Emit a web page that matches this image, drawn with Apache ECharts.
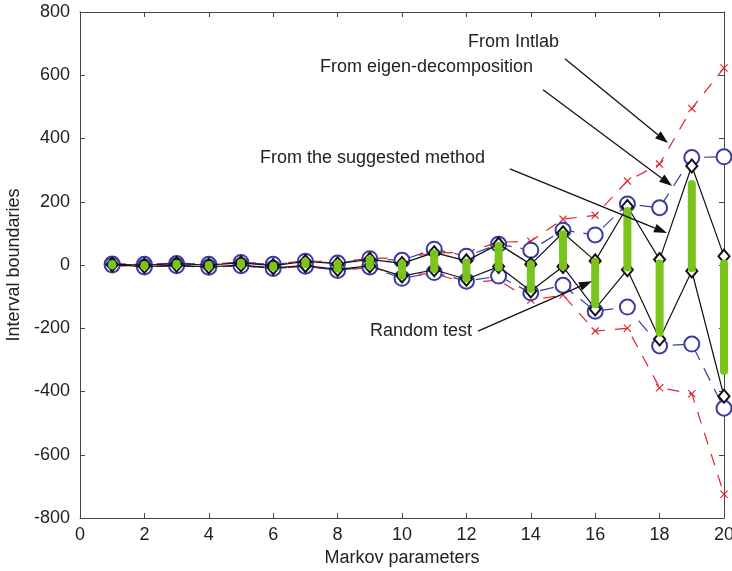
<!DOCTYPE html>
<html>
<head>
<meta charset="utf-8">
<script src="https://cdn.jsdelivr.net/npm/echarts@6/dist/echarts.min.js"></script>
<style>
html, body { margin: 0; padding: 0; background: #fff; }
#main { width: 732px; height: 571px; }
</style>
</head>
<body>
<div id="main"></div>
<script>
// Markov parameter index
var steps = [1, 2, 3, 4, 5, 6, 7, 8, 9, 10, 11, 12, 13, 14, 15, 16, 17, 18, 19, 20];

// From Intlab (red x)
var intlabUp  = [3, 2, 6, 2, 9, 3, 13, 10, 21, 22, 38, 40, 72, 75, 145, 157, 266, 319, 495, 623];
var intlabLow = [-1, -6, -2, -8, -2, -12, -4, -18, -8, -30, -28, -56, -48, -111, -95, -209, -200, -388, -407, -725];

// From eigen-decomposition (blue circles)
var eigenUp  = [3, 2, 5, 2, 8, 2, 12, 6, 20, 15, 50, 28, 66, 47, 110, 95, 193, 181, 340, 342];
var eigenLow = [0, -6, -2, -7, -2, -11, -4, -17, -6, -42, -24, -51, -35, -88, -64, -146, -133, -256, -250, -453];

// From the suggested method (black diamonds)
var suggUp  = [2, 0, 4, 0, 7, -2, 11, 4, 18, 5, 39, 13, 66, 2, 102, 13, 185, 17, 313, 28];
var suggLow = [1, -5, -1, -6, 0, -9, -2, -14, -3, -35, -15, -45, -5, -82, -5, -139, -15, -234, -19, -415];

// Random test (green ranges)
var randLow  = [-1, -4, 0, -5, 1, -8, 2, -12, -2, -33, -13, -43, -8, -76, -5, -124, -8, -214, -10, -335];
var randHigh = [2, 0, 4, 0, 7, -2, 10, 4, 18, 4, 36, 8, 60, 2, 97, 10, 171, 5, 256, 5];

var yTicks = [-800, -600, -400, -200, 0, 200, 400, 600, 800];

function pairs(vals) {
    return steps.map(function (s, i) { return [s, vals[i]]; });
}

var red = '#e3232b';
var blue = '#3b3ba5';
var crossPath = 'path://M0,1L1,0L5,4L9,0L10,1L6,5L10,9L9,10L5,6L1,10L0,9L4,5Z';
var textFont = '"Liberation Sans", Arial, sans-serif';

function intlabSeries(vals) {
    return {
        type: 'line', data: pairs(vals), symbol: crossPath, symbolSize: 8,
        itemStyle: { color: red }, lineStyle: { color: red, width: 1.2, type: [12, 10] },
        z: 2, silent: true
    };
}
function eigenSeries(vals) {
    return {
        type: 'line', data: pairs(vals), symbol: 'emptyCircle', symbolSize: 15,
        itemStyle: { color: blue, borderWidth: 1.2 }, lineStyle: { color: blue, width: 1.2, type: [14, 9] },
        z: 3, silent: true
    };
}
function suggSeries(vals) {
    return {
        type: 'line', data: pairs(vals), symbol: 'emptyDiamond', symbolSize: [11, 13],
        itemStyle: { color: '#111', borderWidth: 1.3 }, lineStyle: { color: '#111', width: 1.2 },
        z: 4, silent: true
    };
}

var chart = echarts.init(document.getElementById('main'));
chart.setOption({
    animation: false,
    backgroundColor: '#fff',
    grid: { left: 80, right: 8, top: 12, bottom: 53, outerBoundsMode: 'none', containLabel: false },
    xAxis: [{
        type: 'value', min: 0, max: 20, interval: 2,
        name: 'Markov parameters', nameLocation: 'middle', nameGap: 28,
        nameTextStyle: { fontFamily: textFont, fontSize: 18, color: '#222' },
        axisLine: { onZero: false, lineStyle: { color: '#444', width: 1 } },
        axisTick: { inside: true, length: 5, lineStyle: { color: '#444' } },
        axisLabel: { fontFamily: textFont, fontSize: 18, color: '#222', margin: 8 },
        splitLine: { show: false }
    }, {
        type: 'value', min: 0, max: 20, interval: 2, position: 'top',
        axisLine: { onZero: false, lineStyle: { color: '#444', width: 1 } },
        axisTick: { inside: true, length: 5, lineStyle: { color: '#444' } },
        axisLabel: { show: false }, splitLine: { show: false }
    }],
    yAxis: [{
        type: 'value', min: yTicks[0], max: yTicks[yTicks.length - 1], interval: 200,
        name: 'Interval boundaries', nameLocation: 'middle', nameGap: 54,
        nameTextStyle: { fontFamily: textFont, fontSize: 18, color: '#222' },
        axisLine: { show: true, onZero: false, lineStyle: { color: '#444', width: 1 } },
        axisTick: { show: true, inside: true, length: 5, lineStyle: { color: '#444' } },
        axisLabel: { fontFamily: textFont, fontSize: 18, color: '#222', margin: 10 },
        splitLine: { show: false }
    }, {
        type: 'value', min: yTicks[0], max: yTicks[yTicks.length - 1], interval: 200, position: 'right',
        axisLine: { show: true, onZero: false, lineStyle: { color: '#444', width: 1 } },
        axisTick: { show: true, inside: true, length: 5, lineStyle: { color: '#444' } },
        axisLabel: { show: false }, splitLine: { show: false }
    }],
    series: [
        intlabSeries(intlabUp), intlabSeries(intlabLow),
        eigenSeries(eigenUp), eigenSeries(eigenLow),
        suggSeries(suggUp), suggSeries(suggLow),
        {
            type: 'custom', z: 5, silent: true,
            data: steps.map(function (s, i) { return [s, randLow[i], randHigh[i]]; }),
            renderItem: function (params, api) {
                var a = api.coord([api.value(0), api.value(1)]);
                var b = api.coord([api.value(0), api.value(2)]);
                return {
                    type: 'line',
                    shape: { x1: a[0], y1: a[1], x2: b[0], y2: b[1] },
                    style: { stroke: '#7ac41c', lineWidth: 8, lineCap: 'round' }
                };
            }
        }
    ]
});

// annotations: text in pixels, arrows anchored in data coordinates
var notes = [
    { text: 'From Intlab', tx: 468, ty: 43, from: [15.06, 652], to: [18.26, 386] },
    { text: 'From eigen-decomposition', tx: 320, ty: 68, from: [14.38, 554], to: [18.39, 250] },
    { text: 'From the suggested method', tx: 260, ty: 159, from: [13.35, 304], to: [18.23, 101] },
    { text: 'Random test', tx: 370, ty: 332, from: [12.36, -209], to: [15.9, -51] }
];
var g = [];
notes.forEach(function (n) {
    var p1 = chart.convertToPixel({ gridIndex: 0 }, n.from);
    var p2 = chart.convertToPixel({ gridIndex: 0 }, n.to);
    var ang = Math.atan2(p2[1] - p1[1], p2[0] - p1[0]);
    var L = 13, W = 4.5;
    var bx = p2[0] - L * Math.cos(ang), by = p2[1] - L * Math.sin(ang);
    g.push({
        type: 'text', left: n.tx, top: n.ty - 10, z: 20,
        style: { text: n.text, font: '18px ' + textFont, fill: '#222' }
    });
    g.push({
        type: 'line', z: 20,
        shape: { x1: p1[0], y1: p1[1], x2: bx, y2: by },
        style: { stroke: '#111', lineWidth: 1.3 }
    });
    g.push({
        type: 'polygon', z: 20,
        shape: { points: [
            [p2[0], p2[1]],
            [bx + W * Math.sin(ang), by - W * Math.cos(ang)],
            [bx - W * Math.sin(ang), by + W * Math.cos(ang)]
        ] },
        style: { fill: '#111' }
    });
});
chart.setOption({ graphic: g });
</script>
</body>
</html>
